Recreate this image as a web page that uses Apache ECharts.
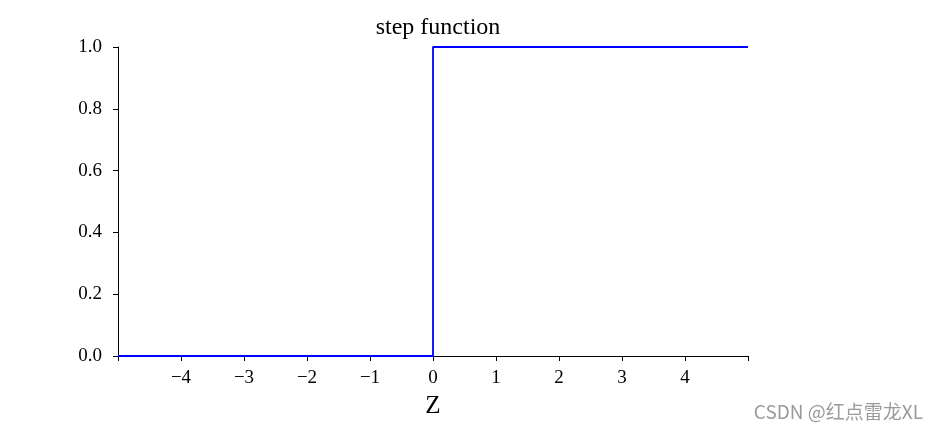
<!DOCTYPE html>
<html><head><meta charset="utf-8">
<script src="https://cdn.jsdelivr.net/npm/echarts@6/dist/echarts.min.js"></script>
<style>html,body{margin:0;padding:0;background:#fff}#c{width:938px;height:434px}</style>
</head><body><div id="c"></div>
<script>
const titleText = 'step function';
const xName = 'Z';
const xValues = [-5, 0, 0, 5];
const yValues = [0, 0, 1, 1];
const xTicks = [-5, -4, -3, -2, -1, 0, 1, 2, 3, 4, 5];
const yTicks = [0, 0.2, 0.4, 0.6, 0.8, 1.0];
const watermark = 'CSDN @红点雷龙XL';

const serif = 'Liberation Serif';
const chart = echarts.init(document.getElementById('c'), null, {renderer: 'canvas'});
chart.setOption({
  animation: false,
  backgroundColor: '#fff',
  title: [{
    text: titleText, left: 433, top: 11, textAlign: 'center',
    textStyle: {fontFamily: serif, fontSize: 24, fontWeight: 'normal', color: '#000'}
  }],
  graphic: [{
    type: 'text', right: 15, top: 402,
    style: {text: watermark, fontFamily: 'Noto Sans CJK SC', fontSize: 19, fill: '#9a9a9a'}
  }],
  grid: {left: 118, right: 190, top: 47, bottom: 78, containLabel: false},
  xAxis: {
    type: 'value', min: -5, max: 5, interval: 1,
    name: xName, nameLocation: 'middle', nameGap: 38,
    nameTextStyle: {fontFamily: serif, fontSize: 25, color: '#000'},
    axisLine: {show: true, onZero: false, lineStyle: {color: '#000', width: 1}},
    axisTick: {show: true, length: 5, lineStyle: {color: '#000'}},
    splitLine: {show: false},
    axisLabel: {
      fontFamily: serif, fontSize: 19, color: '#000', margin: 13,
      formatter: v => (v <= -5 || v >= 5) ? '' : (v < 0 ? '\u2212' + Math.abs(v) : String(v))
    }
  },
  yAxis: {
    type: 'value', min: 0, max: 1, interval: 0.2,
    axisLine: {show: true, onZero: false, lineStyle: {color: '#000', width: 1}},
    axisTick: {show: true, length: 5, lineStyle: {color: '#000'}},
    splitLine: {show: false},
    axisLabel: {fontFamily: serif, fontSize: 19, color: '#000', margin: 16, formatter: v => v.toFixed(1)}
  },
  series: [{
    type: 'line', showSymbol: false, symbol: 'none',
    lineStyle: {color: '#0000ff', width: 1.8},
    data: xValues.map((x, i) => [x, yValues[i]]),
    z: 5
  }]
});
</script></body></html>
